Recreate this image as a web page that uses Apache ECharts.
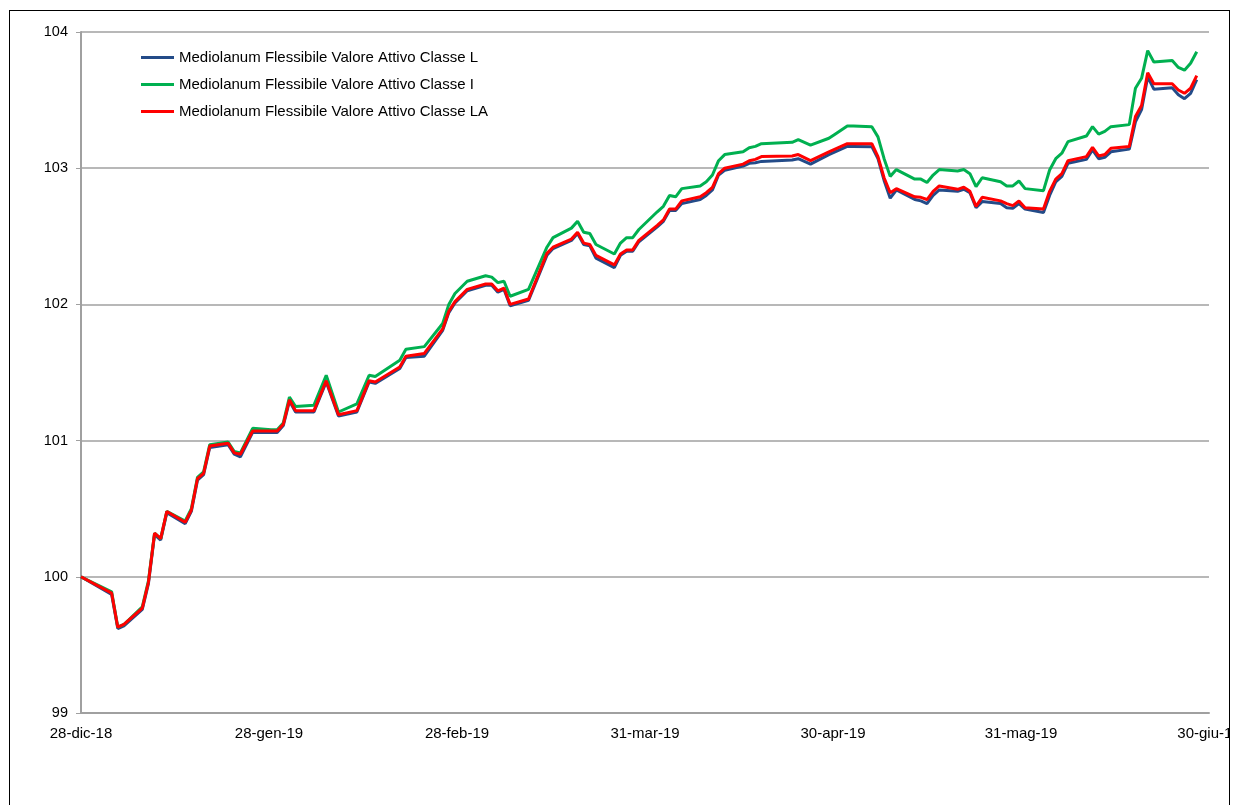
<!DOCTYPE html>
<html>
<head>
<meta charset="utf-8">
<script src="https://cdn.jsdelivr.net/npm/echarts@6/dist/echarts.min.js"></script>
<style>
html,body{margin:0;padding:0;background:#fff;overflow:hidden;width:1236px;height:805px;}
#frame{position:absolute;left:9px;top:10px;width:1219px;height:800px;border:1px solid #000;overflow:hidden;background:#fff;}
#chart{width:1219px;height:800px;}
</style>
</head>
<body>
<div id="frame"><div id="chart"></div></div>
<script>
const startDate = '2018-12-28';
const dates = [
'2018-12-28','2019-01-02','2019-01-03','2019-01-04','2019-01-07','2019-01-08','2019-01-09','2019-01-10','2019-01-11',
'2019-01-14','2019-01-15','2019-01-16','2019-01-17','2019-01-18','2019-01-21','2019-01-22','2019-01-23','2019-01-25',
'2019-01-28','2019-01-29','2019-01-30','2019-01-31','2019-02-01','2019-02-04','2019-02-06','2019-02-08','2019-02-11',
'2019-02-13','2019-02-14','2019-02-18','2019-02-19','2019-02-22','2019-02-25','2019-02-26','2019-02-27','2019-03-01',
'2019-03-04','2019-03-05','2019-03-06','2019-03-07','2019-03-08','2019-03-11','2019-03-14','2019-03-15','2019-03-18',
'2019-03-19','2019-03-20','2019-03-21','2019-03-22','2019-03-25','2019-03-26','2019-03-27','2019-03-28','2019-03-29',
'2019-04-01','2019-04-02','2019-04-03','2019-04-04','2019-04-05','2019-04-08','2019-04-09','2019-04-10','2019-04-11',
'2019-04-12','2019-04-15','2019-04-16','2019-04-17','2019-04-18','2019-04-23','2019-04-24','2019-04-26','2019-04-29',
'2019-04-30','2019-05-02','2019-05-03','2019-05-06','2019-05-07','2019-05-08','2019-05-09','2019-05-10','2019-05-13',
'2019-05-14','2019-05-15','2019-05-16','2019-05-17','2019-05-20','2019-05-21','2019-05-22','2019-05-23','2019-05-24',
'2019-05-27','2019-05-28','2019-05-29','2019-05-30','2019-05-31','2019-06-03','2019-06-04','2019-06-05','2019-06-06',
'2019-06-07','2019-06-10','2019-06-11','2019-06-12','2019-06-13','2019-06-14','2019-06-17','2019-06-18','2019-06-19',
'2019-06-20','2019-06-21','2019-06-24','2019-06-25','2019-06-26','2019-06-27','2019-06-28'
];
const classeL = [
100.00,99.87,99.62,99.64,99.76,99.95,100.31,100.27,100.47,
100.39,100.48,100.71,100.75,100.95,100.97,100.90,100.88,101.06,
101.06,101.06,101.11,101.29,101.21,101.21,101.43,101.18,101.21,
101.43,101.42,101.53,101.61,101.62,101.81,101.94,102.01,102.10,
102.14,102.14,102.09,102.11,101.99,102.03,102.36,102.41,102.47,
102.52,102.44,102.43,102.34,102.27,102.36,102.39,102.39,102.46,
102.57,102.61,102.69,102.69,102.74,102.77,102.80,102.84,102.95,
102.985,103.015,103.036,103.04,103.05,103.06,103.07,103.03,103.10,
103.12,103.16,103.16,103.158,103.07,102.91,102.78,102.84,102.77,
102.76,102.74,102.80,102.84,102.83,102.845,102.82,102.71,102.755,
102.74,102.71,102.705,102.74,102.70,102.675,102.80,102.90,102.94,
103.036,103.065,103.134,103.07,103.08,103.12,103.14,103.34,103.43,
103.67,103.58,103.59,103.54,103.51,103.55,103.65
];
const classeI = [
100.00,99.89,99.63,99.65,99.78,99.97,100.32,100.28,100.48,
100.41,100.50,100.73,100.77,100.97,100.99,100.92,100.91,101.09,
101.08,101.08,101.13,101.32,101.25,101.26,101.48,101.21,101.27,
101.48,101.47,101.59,101.67,101.69,101.86,102.00,102.08,102.17,
102.21,102.20,102.16,102.17,102.06,102.11,102.42,102.49,102.56,
102.61,102.53,102.52,102.44,102.37,102.45,102.49,102.49,102.55,
102.68,102.72,102.80,102.79,102.85,102.87,102.90,102.95,103.055,
103.10,103.12,103.15,103.16,103.18,103.19,103.21,103.17,103.22,
103.25,103.31,103.31,103.305,103.23,103.07,102.94,102.99,102.92,
102.92,102.895,102.95,102.99,102.98,102.99,102.96,102.865,102.93,
102.90,102.87,102.87,102.906,102.85,102.835,102.987,103.07,103.11,
103.195,103.236,103.305,103.25,103.27,103.305,103.32,103.587,103.66,
103.863,103.78,103.79,103.74,103.72,103.77,103.855
];
const classeLA = [
100.00,99.88,99.63,99.65,99.77,99.96,100.32,100.28,100.48,
100.40,100.49,100.72,100.76,100.96,100.98,100.91,100.90,101.07,
101.07,101.07,101.12,101.30,101.22,101.22,101.44,101.19,101.22,
101.44,101.43,101.54,101.62,101.64,101.82,101.95,102.02,102.11,
102.15,102.15,102.10,102.12,102.00,102.04,102.375,102.42,102.48,
102.53,102.45,102.44,102.36,102.29,102.37,102.40,102.40,102.47,
102.58,102.62,102.70,102.70,102.76,102.79,102.82,102.86,102.96,
103.00,103.03,103.055,103.065,103.085,103.09,103.10,103.055,103.12,
103.14,103.18,103.18,103.18,103.085,102.93,102.82,102.85,102.79,
102.786,102.77,102.83,102.87,102.845,102.86,102.83,102.72,102.786,
102.76,102.74,102.725,102.76,102.71,102.70,102.83,102.92,102.96,
103.055,103.085,103.153,103.09,103.10,103.146,103.16,103.38,103.46,
103.70,103.62,103.62,103.574,103.55,103.587,103.68
];
const seriesNames = [
'Mediolanum Flessibile Valore Attivo Classe L',
'Mediolanum Flessibile Valore Attivo Classe I',
'Mediolanum Flessibile Valore Attivo Classe LA'
];
const tickLabels = ['28-dic-18','28-gen-19','28-feb-19','31-mar-19','30-apr-19','31-mag-19','30-giu-19'];
const axisDays = 184;

function dayOffset(s){
  const p = s.split('-').map(Number);
  const q = startDate.split('-').map(Number);
  return (Date.UTC(p[0],p[1]-1,p[2]) - Date.UTC(q[0],q[1]-1,q[2]))/86400000;
}
const xs = dates.map(dayOffset);
const pairs = arr => arr.map((v,i)=>[xs[i], v]);
const step = axisDays/(tickLabels.length-1);

const colors = ['#234B88','#00B050','#FF0000'];
const font = '"Liberation Sans", Arial, sans-serif';

const chart = echarts.init(document.getElementById('chart'), null, {renderer:'canvas'});
chart.setOption({
  animation:false,
  backgroundColor:'#fff',
  color: colors,
  grid:{left:71, top:21, width:1128, height:681, containLabel:false, outerBoundsMode:'none'},
  legend:{
    orient:'vertical', left:126, top:33, itemWidth:33, itemHeight:3, itemGap:10,
    icon:'rect',
    textStyle:{fontFamily:font, fontSize:15, color:'#000', lineHeight:17},
    data: seriesNames
  },
  xAxis:{
    type:'value', min:0, max:axisDays, interval:step,
    axisLine:{show:true, lineStyle:{color:'#A0A0A0', width:2}},
    axisTick:{show:false},
    splitLine:{show:false},
    axisLabel:{
      margin:13, color:'#000', fontFamily:font, fontSize:15,
      showMinLabel:true, showMaxLabel:true, hideOverlap:false,
      formatter: v => tickLabels[Math.round(v/step)] || ''
    }
  },
  yAxis:{
    type:'value', min:99, max:104, interval:1,
    axisLine:{show:true, lineStyle:{color:'#A0A0A0', width:2}},
    axisTick:{show:true, length:5, lineStyle:{color:'#A0A0A0', width:1}},
    splitLine:{show:true, lineStyle:{color:'#A0A0A0', width:1.5}},
    axisLabel:{margin:13, color:'#000', fontFamily:font, fontSize:14.5}
  },
  series:[
    {name:seriesNames[0], type:'line', data:pairs(classeL), symbol:'none', lineStyle:{width:3, color:colors[0]}},
    {name:seriesNames[1], type:'line', data:pairs(classeI), symbol:'none', lineStyle:{width:3, color:colors[1]}},
    {name:seriesNames[2], type:'line', data:pairs(classeLA), symbol:'none', lineStyle:{width:3, color:colors[2]}}
  ]
});
</script>
</body>
</html>
